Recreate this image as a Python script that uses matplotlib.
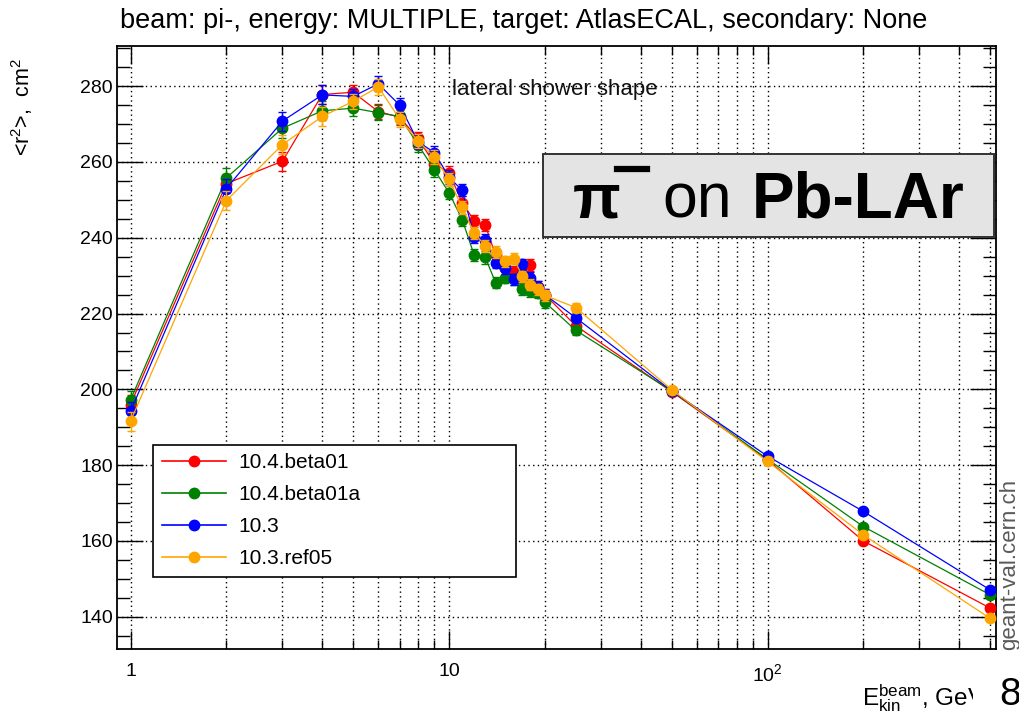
import numpy as np
import matplotlib
matplotlib.use('Agg')
import matplotlib.pyplot as plt
from matplotlib.ticker import FixedLocator, FuncFormatter, MultipleLocator, NullFormatter
from matplotlib.lines import Line2D
from matplotlib.patches import Rectangle

plt.rcParams['font.family'] = ['Liberation Sans', 'DejaVu Sans']
plt.rcParams['mathtext.fontset'] = 'custom'
plt.rcParams['mathtext.rm'] = 'Liberation Sans'
plt.rcParams['mathtext.it'] = 'Liberation Sans:italic'
plt.rcParams['mathtext.bf'] = 'Liberation Sans:bold'

# ---------------- data ----------------
energies = [1, 2, 3, 4, 5, 6, 7, 8, 9, 10, 11, 12, 13, 14, 15, 16, 17, 18, 19, 20, 25, 50, 100, 200, 500]

r2_beta01 = [196.0, 254.3, 260.2, 277.8, 278.4, 273.3, 271.8, 266.2, 259.5, 257.2, 249.3, 244.5, 243.3,
             235.5, 232.0, 231.0, 230.5, 232.8, 227.0, 225.0, 216.8, 199.4, 181.4, 160.0, 142.3]
r2_beta01a = [197.2, 255.8, 268.9, 273.5, 274.2, 273.0, 272.0, 264.5, 257.9, 251.9, 244.8, 235.4, 234.8,
              228.2, 229.5, 229.0, 226.5, 226.0, 225.5, 223.0, 215.6, 199.6, 181.6, 163.8, 145.8]
r2_103 = [194.2, 253.0, 270.8, 277.7, 277.3, 280.6, 275.0, 265.3, 262.5, 256.0, 252.5, 240.3, 239.5,
          233.4, 232.0, 229.0, 233.0, 229.5, 227.0, 225.0, 218.9, 199.6, 182.4, 167.8, 147.1]
r2_ref05 = [191.6, 249.8, 264.6, 272.0, 276.0, 279.8, 271.3, 265.5, 261.3, 255.4, 248.0, 241.3, 237.8,
            236.2, 233.8, 234.5, 229.8, 227.6, 226.4, 224.8, 221.6, 199.9, 181.0, 161.6, 139.6]
r2_err = [2.5, 2.5, 2.5, 2.5, 2.0, 2.0, 2.0, 1.8, 1.8, 1.8, 1.6, 1.6, 1.6, 1.5, 1.5, 1.5, 1.5, 1.5, 1.5,
          1.5, 1.2, 0.8, 0.6, 0.5, 0.5]

series_labels = ['10.4.beta01', '10.4.beta01a', '10.3', '10.3.ref05']
series_values = [r2_beta01, r2_beta01a, r2_103, r2_ref05]
series_colors = ['#ff0000', '#008000', '#0000ff', '#ffa500']

x_tick_values = [1, 10, 100]
x_tick_labels = ['1', '10', '$10^{2}$']
y_tick_values = [140, 160, 180, 200, 220, 240, 260, 280]

title_text = 'beam: pi-, energy: MULTIPLE, target: AtlasECAL, secondary: None'

# ---------------- figure ----------------
W, H = 1019, 724
fig = plt.figure(figsize=(W / 100, H / 100), dpi=100)
ax = fig.add_axes([117 / W, 75 / H, 879 / W, 603 / H])

handles = []
for vals, lab, col in zip(series_values, series_labels, series_colors):
    ax.errorbar(energies, vals, yerr=r2_err, fmt='none', ecolor=col, elinewidth=1.0,
                capsize=3, capthick=1.0, zorder=3)
    ax.plot(energies, vals, '-o', color=col, lw=0.9, ms=7.5, mec=col, zorder=3)
    handles.append(Line2D([], [], color=col, lw=1.2, marker='o', ms=7.5, label=lab))

ax.set_xscale('log')
ax.set_xlim(0.907, 521.7)
ax.set_ylim(131.5, 290.6)

ax.xaxis.set_major_locator(FixedLocator(x_tick_values))
ax.xaxis.set_major_formatter(FuncFormatter(lambda v, p: x_tick_labels[x_tick_values.index(round(v))]
                                           if round(v) in x_tick_values else ''))
minor_x = [m * d for d in (1, 10, 100) for m in range(2, 10) if m * d < 521]
ax.xaxis.set_minor_locator(FixedLocator(minor_x))
ax.xaxis.set_minor_formatter(NullFormatter())
ax.yaxis.set_major_locator(FixedLocator(y_tick_values))
ax.yaxis.set_minor_locator(MultipleLocator(5))

ax.tick_params(which='both', direction='in', top=True, right=True, labelsize=14, colors='black')
ax.tick_params(axis='y', which='major', length=19, width=1.0, pad=3)
ax.tick_params(axis='y', which='minor', length=9.5, width=1.0)
ax.tick_params(axis='x', which='major', length=13, width=1.0, pad=10)
ax.tick_params(axis='x', which='minor', length=6.5, width=1.0)

for s in ax.spines.values():
    s.set_linewidth(1.3)

grid_kw = dict(color='black', linestyle=(0, (1, 2.4)), linewidth=1.0)
ax.grid(True, which='major', axis='y', **grid_kw)
ax.grid(True, which='both', axis='x', **grid_kw)
ax.set_axisbelow(True)

leg = ax.legend(handles=handles, loc='lower left',
                bbox_to_anchor=((153 - 117) / 879, (649 - 577) / 603, (516 - 153) / 879, (577 - 447) / 603),
                mode='expand', borderaxespad=0, fontsize=15, handlelength=3.1, handletextpad=0.6,
                labelspacing=0.62, borderpad=0.42, fancybox=False, framealpha=1, edgecolor='black')
leg.get_frame().set_linewidth(1.2)
leg.set_zorder(5)

ax.text((452 - 117) / 879, (649 - 90) / 603, 'lateral shower shape', transform=ax.transAxes,
        fontsize=16, ha='left', va='center', color='#111111', zorder=6)

# grey label box
ax.add_patch(Rectangle(((543 - 117) / 879, (649 - 237) / 603), (994 - 543) / 879, (237 - 154) / 603,
                       transform=ax.transAxes, facecolor='#e4e4e4', edgecolor='#333333',
                       linewidth=1.4, zorder=7, clip_on=False))


def fx(px):
    return px / W


def fy(py):
    return 1 - py / H


fig.text(fx(573), fy(217), 'π', fontsize=45, fontweight='bold', ha='left', va='baseline', zorder=8)
fig.add_artist(Line2D([fx(617), fx(647)], [fy(169), fy(169)], color='black', lw=4.5, zorder=8))
fig.text(fx(662), fy(217), 'on', fontsize=45, ha='left', va='baseline', zorder=8)
fig.text(fx(752), fy(217), 'Pb-LAr', fontsize=46, fontweight='bold', ha='left', va='baseline', zorder=8)

# title
fig.text(fx(120), fy(21), title_text, fontsize=19.5, ha='left', va='center')

# y label
fig.text(fx(22), fy(58), '<r$^{2}$>,  cm$^{2}$', rotation=90, fontsize=15.5, ha='center', va='top')

# x label (partly hidden at the right edge)
fig.text(fx(862), fy(705), r'E$_{\mathregular{kin}}^{\mathregular{beam}}$, GeV', fontsize=17.5,
         ha='left', va='baseline')
fig.add_artist(Rectangle((fx(973), 0), fx(W) - fx(973), fy(664), transform=fig.transFigure,
                         facecolor='white', edgecolor='none', zorder=9))
fig.text(fx(999), fy(705), '8', fontsize=28, ha='left', va='baseline', zorder=10)

# watermark
fig.text(fx(1010), fy(650), 'geant-val.cern.ch', rotation=90, fontsize=16, color='#5a5a5a',
         ha='center', va='bottom')

fig.savefig('out.png', dpi=100)
